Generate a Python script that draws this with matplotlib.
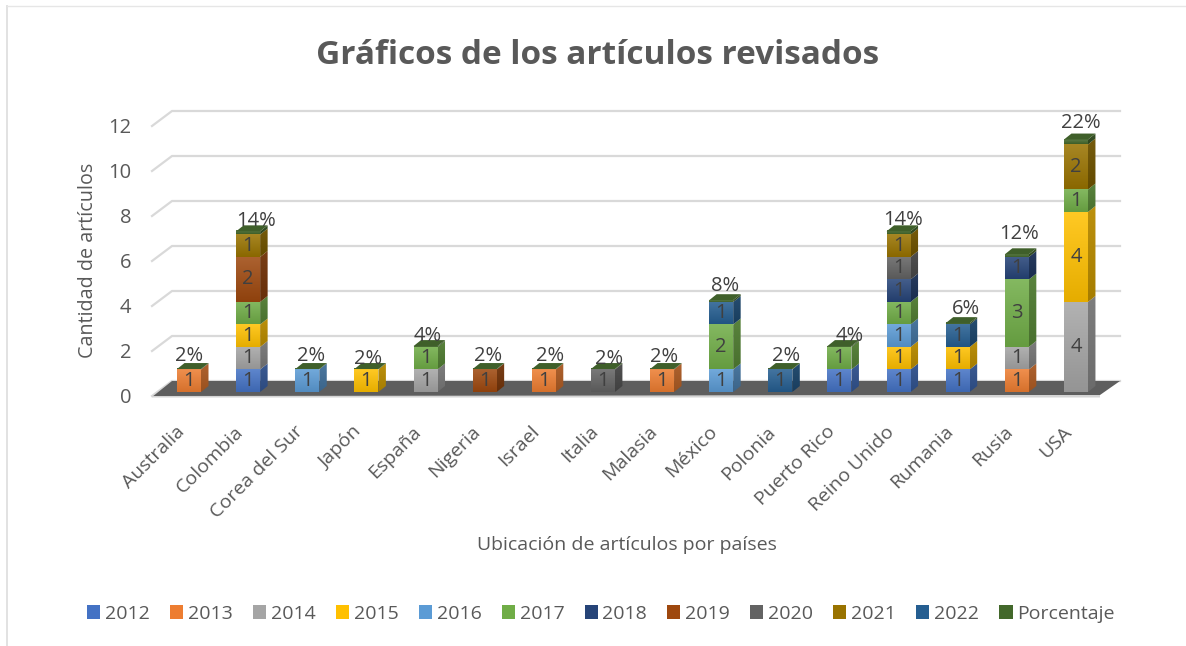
import numpy as np
import matplotlib
matplotlib.use("Agg")
import matplotlib.pyplot as plt
from matplotlib.lines import Line2D
from matplotlib.patches import Polygon, Patch
from matplotlib.colors import to_rgb
from matplotlib.transforms import ScaledTranslation

countries = ["Australia", "Colombia", "Corea del Sur", "Japón", "España", "Nigeria",
             "Israel", "Italia", "Malasia", "México", "Polonia", "Puerto Rico",
             "Reino Unido", "Rumania", "Rusia", "USA"]
years = ["2012", "2013", "2014", "2015", "2016", "2017", "2018", "2019", "2020", "2021", "2022"]

v2012 = [0, 1, 0, 0, 0, 0, 0, 0, 0, 0, 0, 1, 1, 1, 0, 0]
v2013 = [1, 0, 0, 0, 0, 0, 1, 0, 1, 0, 0, 0, 0, 0, 1, 0]
v2014 = [0, 1, 0, 0, 1, 0, 0, 0, 0, 0, 0, 0, 0, 0, 1, 4]
v2015 = [0, 1, 0, 1, 0, 0, 0, 0, 0, 0, 0, 0, 1, 1, 0, 4]
v2016 = [0, 0, 1, 0, 0, 0, 0, 0, 0, 1, 0, 0, 1, 0, 0, 0]
v2017 = [0, 1, 0, 0, 1, 0, 0, 0, 0, 2, 0, 1, 1, 0, 3, 1]
v2018 = [0, 0, 0, 0, 0, 0, 0, 0, 0, 0, 0, 0, 1, 0, 1, 0]
v2019 = [0, 2, 0, 0, 0, 1, 0, 0, 0, 0, 0, 0, 0, 0, 0, 0]
v2020 = [0, 0, 0, 0, 0, 0, 0, 1, 0, 0, 0, 0, 1, 0, 0, 0]
v2021 = [0, 1, 0, 0, 0, 0, 0, 0, 0, 0, 0, 0, 1, 0, 0, 2]
v2022 = [0, 0, 0, 0, 0, 0, 0, 0, 0, 1, 1, 0, 0, 1, 0, 0]
porcentaje = [0.02, 0.14, 0.02, 0.02, 0.04, 0.02, 0.02, 0.02, 0.02, 0.08, 0.02, 0.04, 0.14, 0.06, 0.12, 0.22]

series = [v2012, v2013, v2014, v2015, v2016, v2017, v2018, v2019, v2020, v2021, v2022]
colors = ["#4472C4", "#ED7D31", "#A5A5A5", "#FFC000", "#5B9BD5", "#70AD47",
          "#264478", "#9E480E", "#636363", "#997300", "#255E91"]
pct_color = "#43682B"
yticks = [0, 2, 4, 6, 8, 10, 12]

# hand placement of the percent labels, in pixels, as in the reference
pct_nudge_x = [-3, 5, 1, -1, -1, 0, 3, 3, -1, 1, 3, 7, 1, 5, -1, 2]
pct_nudge_y = [2, 5, 2, 5, 5, 2, 2, 5, 3, 1, 2, 5, 4, 1, -5, -2]

TEXT = "#595959"
LABEL = "#404040"
plt.rcParams["font.family"] = ["Open Sans", "DejaVu Sans"]

W, H = 1186, 646
fig = plt.figure(figsize=(W / 100, H / 100), dpi=100, facecolor="white")

# axes frame in reference pixels
L, R, B, T = 152, 1120, 392, 104
PX_X, PX_Y = 59.13, 22.5
ax = fig.add_axes([L / W, 1 - B / H, (R - L) / W, (B - T) / H])
xmin, xmax = (L - 189) / PX_X, (R - 189) / PX_X
ymin, ymax = 0, (B - T) / PX_Y
hw = 12 / PX_X
dx, dy = 7.5 / PX_X, 6 / PX_Y


def ramp(color, top=0.14, bottom=0.10):
    c = np.array(to_rgb(color))
    n = 48
    arr = np.zeros((n, 1, 3))
    for i in range(n):
        t = i / (n - 1)
        light = c + (1 - c) * top
        dark = c * (1 - bottom)
        arr[i, 0] = light * (1 - t) + dark * t
    return arr


def front(x0, x1, y0, y1, color, z):
    ax.imshow(ramp(color), extent=(x0, x1, y0, y1), aspect="auto", origin="upper",
              interpolation="bilinear", zorder=z)


def side(x0, y0, y1, color, z):
    poly = Polygon([(x0, y0), (x0, y1), (x0 + dx, y1 + dy), (x0 + dx, y0 + dy)],
                   closed=True, transform=ax.transData, facecolor="none", edgecolor="none")
    ax.add_patch(poly)
    dark = np.array(to_rgb(color)) * 0.72
    im = ax.imshow(ramp(dark, 0.05, 0.10), extent=(x0, x0 + dx, y0, y1 + dy), aspect="auto",
                   origin="upper", interpolation="bilinear", zorder=z)
    im.set_clip_path(poly)


# walls
for v in yticks:
    ax.plot([xmin, xmin + 20 / PX_X, xmax],
            [v - 4 / PX_Y, v + 11 / PX_Y, v + 11 / PX_Y],
            color="#D9D9D9", lw=1.6, zorder=1, clip_on=False, solid_joinstyle="miter")

# floor
ax.add_patch(Polygon([(xmin, -5 / PX_Y), (xmin + 20 / PX_X, 11 / PX_Y), (xmax, 11 / PX_Y),
                      (xmax - 20 / PX_X, -3 / PX_Y)],
                     closed=True, facecolor="#5E5E5E", edgecolor="none", zorder=2, clip_on=False))
ax.add_patch(Polygon([(xmin, -4 / PX_Y), (xmax - 20 / PX_X, -3 / PX_Y),
                      (xmax - 20 / PX_X, -5.5 / PX_Y), (xmin, -5.5 / PX_Y)],
                     closed=True, facecolor="#D4D4D4", edgecolor="none", zorder=2, clip_on=False))

# bars
z = 3
labels = []
for i in range(len(countries)):
    bottom = 0
    for s, color in zip(series, colors):
        val = s[i]
        if val:
            front(i - hw, i + hw, bottom, bottom + val, color, z)
            side(i + hw, bottom, bottom + val, color, z)
            labels.append((i, bottom + val / 2, str(val)))
            bottom += val
            z += 0.01
    top = bottom + porcentaje[i]
    front(i - hw, i + hw, bottom, top, pct_color, z)
    side(i + hw, bottom, top, pct_color, z)
    ax.add_patch(Polygon([(i - hw, top), (i + hw, top), (i + hw + dx, top + dy), (i - hw + dx, top + dy)],
                         closed=True, facecolor="#3F5F2A", edgecolor="none", zorder=z))
    labels.append(((i + (3 + pct_nudge_x[i]) / PX_X), top + dy + (9 - pct_nudge_y[i]) / PX_Y,
                   f"{porcentaje[i] * 100:.0f}%"))
    z += 0.01

for x, y, s in labels:
    ax.text(x, y, s, ha="center", va="center", fontsize=14.5, color=LABEL, zorder=50, clip_on=False)

ax.set_xlim(xmin, xmax)
ax.set_ylim(ymin, ymax)
ax.set_facecolor("none")
for sp in ax.spines.values():
    sp.set_visible(False)

ax.set_yticks(yticks)
ax.set_yticklabels([str(v) for v in yticks], fontsize=14.5, color=TEXT)
ax.tick_params(axis="y", length=0, pad=15)
ax.set_xticks(range(len(countries)))
ax.set_xticklabels(countries, rotation=45, ha="right", va="top", rotation_mode="anchor",
                   fontsize=14, color=TEXT)
ax.tick_params(axis="x", length=0, pad=22)
for t in ax.get_yticklabels():
    t.set_transform(t.get_transform() + ScaledTranslation(0, -3.5 / 100, fig.dpi_scale_trans))
for t in ax.get_xticklabels():
    t.set_transform(t.get_transform() + ScaledTranslation(-13.5 / 100, 0, fig.dpi_scale_trans))

ax.set_xlabel("Ubicación de artículos por países", fontsize=14, color=TEXT)
ax.xaxis.set_label_coords(627 / W, 1 - 545 / H, transform=fig.transFigure)
ax.xaxis.label.set_va("center")
ax.set_ylabel("Cantidad de artículos", fontsize=14.2, color=TEXT)
ax.yaxis.set_label_coords(88 / W, 1 - 260 / H, transform=fig.transFigure)
ax.yaxis.label.set_va("center")

fig.suptitle("Gráficos de los artículos revisados", x=598 / W, y=1 - 55 / H, ha="center", va="center",
             fontsize=24, fontweight="bold", color=TEXT)

handles = [Patch(facecolor=c, edgecolor="none", label=y) for c, y in zip(colors, years)]
handles.append(Patch(facecolor=pct_color, edgecolor="none", label="Porcentaje"))
fig.legend(handles=handles, ncols=12, loc="center", bbox_to_anchor=(601 / W, 1 - 614 / H),
           frameon=False, fontsize=14, labelcolor=TEXT, handlelength=0.67, handleheight=0.75,
           handletextpad=0.25, columnspacing=1.04, borderpad=0, borderaxespad=0)

# chart border
fig.add_artist(Line2D([7 / W, 7 / W], [0, 1 - 6 / H], color="#E2E2E2", lw=1.4))
fig.add_artist(Line2D([7 / W, 1], [1 - 6 / H, 1 - 6 / H], color="#E6E6E6", lw=1.0))

fig.savefig("out.png", dpi=100)
